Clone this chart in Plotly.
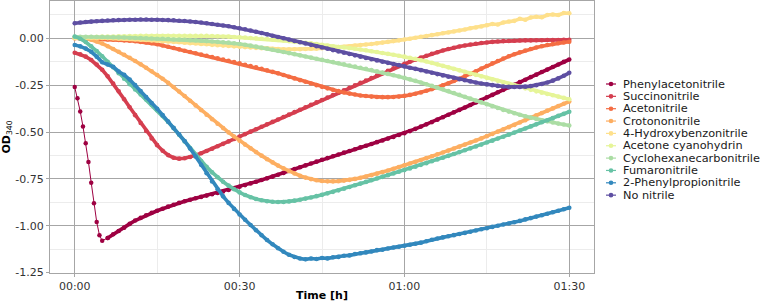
import plotly.graph_objects as go

# ---------------- data ----------------
series_names = ["Phenylacetonitrile", "Succinonitrile", "Acetonitrile", "Crotononitrile",
                "4-Hydroxybenzonitrile", "Acetone cyanohydrin", "Cyclohexanecarbonitrile",
                "Fumaronitrile", "2-Phenylpropionitrile", "No nitrile"]
series_colors = ["#9E0142", "#D53E4F", "#F46D43", "#FDAE61", "#FEE08B",
                 "#E6F598", "#ABDDA4", "#66C2A5", "#3288BD", "#5E4FA2"]

time_min = list(range(0, 91))  # minutes

# Phenylacetonitrile: fast initial drop (0-5 min, every 0.5 min) then recovery (6-90 min)
phenylacetonitrile_drop_t = [0, 0.5, 1, 1.5, 2, 2.5, 3, 3.5, 4, 4.5, 5]
phenylacetonitrile_drop = [-0.26, -0.32, -0.39, -0.47, -0.56, -0.66, -0.77, -0.88, -0.98, -1.05, -1.08]
phenylacetonitrile_rest = [
    -1.065, -1.045, -1.028, -1.010, -0.990, -0.972, -0.958, -0.944, -0.931, -0.920,
    -0.909, -0.898, -0.888, -0.878, -0.869, -0.861, -0.853, -0.846, -0.839, -0.832,
    -0.825, -0.817, -0.809, -0.800, -0.792, -0.783, -0.774, -0.765, -0.756, -0.747,
    -0.738, -0.728, -0.718, -0.708, -0.698, -0.688, -0.678, -0.668, -0.658, -0.648,
    -0.639, -0.629, -0.620, -0.610, -0.601, -0.592, -0.582, -0.573, -0.564, -0.554,
    -0.545, -0.535, -0.526, -0.516, -0.506, -0.495, -0.483, -0.471, -0.459, -0.447,
    -0.434, -0.421, -0.408, -0.395, -0.382, -0.369, -0.356, -0.342, -0.329, -0.315,
    -0.302, -0.288, -0.275, -0.261, -0.248, -0.234, -0.221, -0.207, -0.194, -0.180,
    -0.167, -0.153, -0.140, -0.126, -0.113]

succinonitrile = [
    -0.077, -0.085, -0.098, -0.116, -0.140, -0.168, -0.203, -0.242, -0.283, -0.325,
    -0.368, -0.410, -0.452, -0.494, -0.534, -0.570, -0.600, -0.623, -0.637, -0.642,
    -0.640, -0.633, -0.624, -0.613, -0.601, -0.589, -0.576, -0.563, -0.550, -0.537,
    -0.524, -0.511, -0.498, -0.485, -0.472, -0.459, -0.446, -0.433, -0.420, -0.407,
    -0.394, -0.381, -0.368, -0.355, -0.342, -0.329, -0.316, -0.303, -0.290, -0.277,
    -0.264, -0.251, -0.238, -0.225, -0.212, -0.199, -0.186, -0.173, -0.160, -0.148,
    -0.136, -0.125, -0.114, -0.103, -0.093, -0.083, -0.074, -0.065, -0.057, -0.050,
    -0.044, -0.038, -0.033, -0.029, -0.025, -0.022, -0.019, -0.017, -0.015, -0.014,
    -0.013, -0.012, -0.011, -0.011, -0.010, -0.010, -0.009, -0.009, -0.009, -0.008,
    -0.008]

acetonitrile = [
    0.000, -0.001, -0.001, -0.002, -0.003, -0.004, -0.006, -0.007, -0.009, -0.011,
    -0.013, -0.016, -0.019, -0.022, -0.026, -0.032, -0.038, -0.045, -0.052, -0.059,
    -0.066, -0.073, -0.080, -0.087, -0.093, -0.100, -0.107, -0.114, -0.120, -0.127,
    -0.134, -0.141, -0.148, -0.155, -0.163, -0.171, -0.179, -0.187, -0.196, -0.205,
    -0.214, -0.223, -0.232, -0.241, -0.250, -0.259, -0.267, -0.275, -0.282, -0.289,
    -0.295, -0.300, -0.305, -0.308, -0.311, -0.313, -0.314, -0.314, -0.313, -0.311,
    -0.307, -0.302, -0.296, -0.289, -0.280, -0.271, -0.262, -0.251, -0.240, -0.228,
    -0.216, -0.203, -0.190, -0.176, -0.162, -0.148, -0.134, -0.121, -0.108, -0.096,
    -0.085, -0.075, -0.065, -0.057, -0.049, -0.042, -0.036, -0.031, -0.026, -0.022,
    -0.018]

crotononitrile = [
    0.000, 0.000, -0.001, -0.008, -0.017, -0.028, -0.042, -0.057, -0.072, -0.088,
    -0.104, -0.121, -0.139, -0.157, -0.176, -0.196, -0.216, -0.238, -0.260, -0.284,
    -0.308, -0.333, -0.358, -0.383, -0.408, -0.432, -0.456, -0.479, -0.502, -0.524,
    -0.546, -0.567, -0.587, -0.607, -0.626, -0.645, -0.662, -0.679, -0.694, -0.708,
    -0.721, -0.733, -0.743, -0.751, -0.757, -0.761, -0.763, -0.763, -0.762, -0.759,
    -0.755, -0.750, -0.744, -0.737, -0.730, -0.722, -0.714, -0.705, -0.696, -0.687,
    -0.678, -0.668, -0.659, -0.649, -0.639, -0.629, -0.619, -0.609, -0.599, -0.588,
    -0.578, -0.567, -0.556, -0.545, -0.534, -0.522, -0.510, -0.498, -0.486, -0.474,
    -0.462, -0.449, -0.437, -0.424, -0.411, -0.399, -0.386, -0.374, -0.361, -0.349,
    -0.337]

hydroxybenzonitrile = [
    0.002, 0.003, 0.003, 0.003, 0.002, 0.002, 0.001, 0.000, -0.001, -0.002,
    -0.004, -0.005, -0.007, -0.009, -0.011, -0.013, -0.015, -0.017, -0.019, -0.021,
    -0.024, -0.026, -0.028, -0.030, -0.032, -0.035, -0.037, -0.039, -0.041, -0.043,
    -0.045, -0.047, -0.049, -0.051, -0.053, -0.054, -0.056, -0.057, -0.058, -0.058,
    -0.058, -0.058, -0.057, -0.056, -0.055, -0.053, -0.051, -0.049, -0.047, -0.045,
    -0.042, -0.039, -0.036, -0.033, -0.030, -0.027, -0.023, -0.019, -0.015, -0.011,
    -0.006, -0.002, 0.003, 0.008, 0.012, 0.017, 0.022, 0.027, 0.031, 0.036,
    0.042, 0.047, 0.054, 0.058, 0.063, 0.070, 0.076, 0.074, 0.084, 0.090,
    0.093, 0.104, 0.099, 0.111, 0.115, 0.112, 0.124, 0.127, 0.124, 0.135,
    0.134]

acetone_cyanohydrin = [
    0.004, 0.005, 0.006, 0.007, 0.008, 0.009, 0.010, 0.010, 0.011, 0.011,
    0.012, 0.012, 0.013, 0.013, 0.013, 0.014, 0.014, 0.014, 0.014, 0.014,
    0.014, 0.014, 0.014, 0.013, 0.013, 0.012, 0.011, 0.010, 0.009, 0.007,
    0.006, 0.004, 0.002, 0.000, -0.002, -0.004, -0.007, -0.009, -0.012, -0.015,
    -0.018, -0.021, -0.024, -0.027, -0.031, -0.034, -0.038, -0.042, -0.046, -0.049,
    -0.052, -0.056, -0.060, -0.064, -0.069, -0.073, -0.078, -0.083, -0.088, -0.093,
    -0.098, -0.104, -0.110, -0.117, -0.124, -0.131, -0.139, -0.147, -0.155, -0.163,
    -0.171, -0.179, -0.187, -0.195, -0.203, -0.211, -0.219, -0.227, -0.235, -0.243,
    -0.251, -0.259, -0.267, -0.275, -0.283, -0.290, -0.297, -0.304, -0.311, -0.318,
    -0.325]

cyclohexanecarbonitrile = [
    0.008, 0.008, 0.008, 0.008, 0.007, 0.007, 0.006, 0.006, 0.005, 0.004,
    0.003, 0.002, 0.001, 0.000, -0.001, -0.002, -0.003, -0.004, -0.006, -0.007,
    -0.008, -0.010, -0.011, -0.013, -0.015, -0.017, -0.019, -0.021, -0.023, -0.026,
    -0.030, -0.034, -0.039, -0.044, -0.049, -0.055, -0.061, -0.067, -0.073, -0.079,
    -0.085, -0.091, -0.097, -0.103, -0.109, -0.115, -0.121, -0.127, -0.133, -0.139,
    -0.145, -0.151, -0.157, -0.163, -0.169, -0.176, -0.183, -0.190, -0.197, -0.204,
    -0.211, -0.219, -0.227, -0.236, -0.245, -0.254, -0.263, -0.272, -0.282, -0.292,
    -0.302, -0.312, -0.322, -0.332, -0.342, -0.352, -0.362, -0.372, -0.382, -0.391,
    -0.400, -0.408, -0.416, -0.423, -0.430, -0.437, -0.443, -0.449, -0.455, -0.460,
    -0.465]

fumaronitrile = [
    0.010, -0.002, -0.020, -0.042, -0.068, -0.096, -0.125, -0.155, -0.186, -0.216,
    -0.245, -0.273, -0.300, -0.327, -0.355, -0.384, -0.414, -0.446, -0.480, -0.515,
    -0.551, -0.587, -0.622, -0.655, -0.686, -0.715, -0.741, -0.765, -0.786, -0.805,
    -0.822, -0.836, -0.848, -0.857, -0.864, -0.869, -0.872, -0.873, -0.873, -0.870,
    -0.866, -0.861, -0.855, -0.849, -0.842, -0.835, -0.827, -0.819, -0.811, -0.802,
    -0.793, -0.784, -0.775, -0.766, -0.757, -0.748, -0.739, -0.730, -0.721, -0.712,
    -0.703, -0.694, -0.685, -0.675, -0.666, -0.656, -0.646, -0.637, -0.627, -0.617,
    -0.607, -0.597, -0.587, -0.577, -0.567, -0.556, -0.546, -0.535, -0.525, -0.514,
    -0.503, -0.492, -0.481, -0.470, -0.459, -0.448, -0.437, -0.426, -0.414, -0.403,
    -0.392]

phenylpropionitrile = [
    -0.036, -0.043, -0.055, -0.072, -0.098, -0.128, -0.140, -0.152, -0.177, -0.195,
    -0.220, -0.250, -0.282, -0.314, -0.345, -0.376, -0.410, -0.444, -0.478, -0.512,
    -0.548, -0.588, -0.631, -0.675, -0.720, -0.764, -0.805, -0.843, -0.878, -0.910,
    -0.940, -0.968, -0.996, -1.024, -1.051, -1.076, -1.099, -1.120, -1.139, -1.155,
    -1.167, -1.175, -1.179, -1.175, -1.177, -1.172, -1.174, -1.168, -1.166, -1.160,
    -1.158, -1.151, -1.147, -1.142, -1.137, -1.130, -1.128, -1.121, -1.116, -1.112,
    -1.107, -1.101, -1.096, -1.090, -1.083, -1.075, -1.068, -1.062, -1.056, -1.050,
    -1.044, -1.038, -1.032, -1.025, -1.019, -1.013, -1.006, -1.000, -0.993, -0.988,
    -0.981, -0.974, -0.966, -0.959, -0.951, -0.944, -0.936, -0.928, -0.920, -0.912,
    -0.904]

no_nitrile = [
    0.080, 0.084, 0.087, 0.089, 0.091, 0.093, 0.095, 0.096, 0.097, 0.098,
    0.099, 0.099, 0.100, 0.100, 0.099, 0.099, 0.098, 0.097, 0.096, 0.094,
    0.092, 0.090, 0.087, 0.084, 0.080, 0.076, 0.072, 0.068, 0.064, 0.059,
    0.054, 0.048, 0.042, 0.035, 0.028, 0.021, 0.014, 0.007, 0.000, -0.007,
    -0.014, -0.021, -0.028, -0.035, -0.042, -0.049, -0.056, -0.063, -0.070, -0.077,
    -0.084, -0.091, -0.098, -0.105, -0.112, -0.118, -0.125, -0.131, -0.137, -0.143,
    -0.150, -0.157, -0.163, -0.170, -0.177, -0.184, -0.191, -0.198, -0.205, -0.211,
    -0.218, -0.224, -0.230, -0.236, -0.241, -0.246, -0.250, -0.254, -0.257, -0.259,
    -0.260, -0.260, -0.258, -0.255, -0.250, -0.244, -0.236, -0.226, -0.214, -0.200,
    -0.184]

x_tick_vals = [0, 30, 60, 90]
x_tick_text = ["00:00", "00:30", "01:00", "01:30"]
y_tick_vals = [-1.25, -1.0, -0.75, -0.5, -0.25, 0.0]
y_tick_text = ["-1.25", "-1.00", "-0.75", "-0.50", "-0.25", "0.00"]

# ---------------- figure ----------------
FONT = "DejaVu Sans, Verdana, sans-serif"
W, H = 762, 302
ML, MR, MT, MB = 50, 168, 1, 29
plot_w = W - ML - MR
plot_h = H - MT - MB

fig = go.Figure()

series_data = [
    (time_min[6:], phenylacetonitrile_rest),
    (time_min, succinonitrile),
    (time_min, acetonitrile),
    (time_min, crotononitrile),
    (time_min, hydroxybenzonitrile),
    (time_min, acetone_cyanohydrin),
    (time_min, cyclohexanecarbonitrile),
    (time_min, fumaronitrile),
    (time_min, phenylpropionitrile),
    (time_min, no_nitrile),
]

# Phenylacetonitrile's sparse initial points with a thin connecting line
fig.add_trace(go.Scatter(
    x=phenylacetonitrile_drop_t + [time_min[6]],
    y=phenylacetonitrile_drop + [phenylacetonitrile_rest[0]],
    mode="lines+markers", showlegend=False,
    line=dict(color=series_colors[0], width=1),
    marker=dict(color=series_colors[0], size=4.5),
    hoverinfo="skip"))

for name, color, (xs, ys) in zip(series_names, series_colors, series_data):
    fig.add_trace(go.Scatter(
        x=xs, y=ys, name=name, mode="lines+markers", showlegend=False,
        line=dict(color=color, width=3.6),
        marker=dict(color=color, size=4.6)))

# custom compact legend (line + dot + label), laid out by item index
leg_top_px = 84.0
leg_step_px = 12.35
shapes = []
annotations = []
for i, (name, color) in enumerate(zip(series_names, series_colors)):
    ypx = leg_top_px + i * leg_step_px
    yp = (H - MB - ypx) / plot_h
    x0p = (606 - ML) / plot_w
    x1p = (616 - ML) / plot_w
    xcp = (611 - ML) / plot_w
    shapes.append(dict(type="line", xref="paper", yref="paper", x0=x0p, x1=x1p, y0=yp, y1=yp,
                       line=dict(color=color, width=1.2)))
    shapes.append(dict(type="circle", xref="paper", yref="paper",
                       xsizemode="pixel", ysizemode="pixel",
                       xanchor=xcp, yanchor=yp, x0=-2.3, x1=2.3, y0=-2.3, y1=2.3,
                       fillcolor=color, line=dict(color=color, width=0)))
    annotations.append(dict(text=name, xref="paper", yref="paper",
                            x=(621 - ML) / plot_w, y=yp, xanchor="left", yanchor="middle",
                            showarrow=False, font=dict(family=FONT, size=11.3, color="#1a1a1a")))

fig.update_layout(
    template="none",
    width=W, height=H,
    margin=dict(l=ML, r=MR, t=MT, b=MB, pad=0),
    paper_bgcolor="white", plot_bgcolor="white",
    font=dict(family=FONT, size=11, color="#333333"),
    showlegend=False,
    shapes=shapes, annotations=annotations,
    xaxis=dict(
        automargin=False,
        range=[-4.5, 94.5], tickvals=x_tick_vals, ticktext=x_tick_text,
        showgrid=True, gridcolor="#a6a6a6", gridwidth=1,
        minor=dict(tickvals=[15, 45, 75], showgrid=True, gridcolor="#ececec", gridwidth=1, ticks=""),
        showline=True, linecolor="#a6a6a6", linewidth=1, mirror=True,
        ticks="outside", ticklen=3, tickcolor="#a6a6a6",
        tickfont=dict(family=FONT, size=11, color="#333333"),
        zeroline=False,
        title=dict(text="<b>Time [h]</b>", font=dict(family=FONT, size=11, color="#000000"), standoff=2),
    ),
    yaxis=dict(
        automargin=False,
        range=[-1.252, 0.199], tickvals=y_tick_vals, ticktext=y_tick_text,
        showgrid=True, gridcolor="#a6a6a6", gridwidth=1,
        minor=dict(tickvals=[-1.125, -0.875, -0.625, -0.375, -0.125, 0.125], showgrid=True,
                   gridcolor="#ececec", gridwidth=1, ticks=""),
        showline=True, linecolor="#a6a6a6", linewidth=1, mirror=True,
        ticks="outside", ticklen=3, tickcolor="#a6a6a6",
        tickfont=dict(family=FONT, size=11, color="#333333"),
        zeroline=False,
        title=dict(text="<b>OD</b><sub>340</sub>", font=dict(family=FONT, size=11, color="#000000"), standoff=4),
    ),
)

fig.write_html("out.html", config={"displayModeBar": False},
               post_script="document.body.style.margin='0px';document.body.style.padding='0px';")
